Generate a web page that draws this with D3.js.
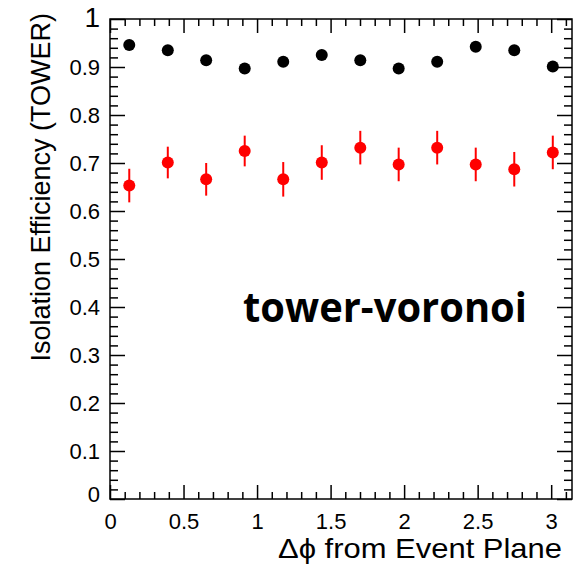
<!DOCTYPE html>
<html>
<head>
<meta charset="utf-8">
<script src="https://cdn.jsdelivr.net/npm/d3@7"></script>
<style>
  body { margin: 0; background: #fff; }
  svg { display: block; font-family: "Liberation Sans", Arial, sans-serif; }
</style>
</head>
<body>
<svg id="chart"></svg>
<script>
// bin centres in delta phi
const dphi = [0.131, 0.393, 0.654, 0.916, 1.178, 1.440, 1.702, 1.963, 2.225, 2.487, 2.749, 3.011];
// black series
const effBlack = [0.946, 0.935, 0.914, 0.897, 0.911, 0.925, 0.914, 0.897, 0.911, 0.942, 0.935, 0.901];
// red series and its errors
const effRed = [0.653, 0.701, 0.666, 0.725, 0.666, 0.701, 0.732, 0.697, 0.732, 0.697, 0.687, 0.722];
const errRed = [0.035, 0.033, 0.034, 0.032, 0.036, 0.036, 0.035, 0.035, 0.035, 0.035, 0.036, 0.035];

const xMajor = [0, 0.5, 1, 1.5, 2, 2.5, 3];
const yMajor = [0, 0.1, 0.2, 0.3, 0.4, 0.5, 0.6, 0.7, 0.8, 0.9, 1];

const W = 576, H = 566;
const margin = {top: 19, right: 4, bottom: 67, left: 110};
const width = W - margin.left - margin.right;
const height = H - margin.top - margin.bottom;

const svg = d3.select('#chart').attr('width', W).attr('height', H);
const g = svg.append('g').attr('transform', `translate(${margin.left},${margin.top})`);

const x = d3.scaleLinear().domain([0, Math.PI]).range([0, width]);
const y = d3.scaleLinear().domain([0, 1]).range([height, 0]);

const xMinor = d3.range(0, 3.15, 0.1).filter(v => Math.abs(v * 2 - Math.round(v * 2)) > 1e-6);
const yMinor = d3.range(0, 1.001, 0.02).filter(v => Math.abs(v * 10 - Math.round(v * 10)) > 1e-6);

function styleAxis(sel) {
  sel.select('.domain').remove();
  sel.selectAll('line').attr('stroke', '#000').attr('stroke-width', 1.5);
}

// bottom
g.append('g').attr('transform', `translate(0,${height})`)
  .call(d3.axisBottom(x).tickValues(xMajor).tickSize(-14).tickPadding(14)
    .tickFormat(d => d3.format('')(d)))
  .call(styleAxis)
  .call(s => s.selectAll('text').attr('font-size', 22).attr('fill', '#000'));
g.append('g').attr('transform', `translate(0,${height})`)
  .call(d3.axisBottom(x).tickValues(xMinor).tickSize(-7).tickFormat(''))
  .call(styleAxis);
// top
g.append('g')
  .call(d3.axisTop(x).tickValues(xMajor).tickSize(-14).tickFormat(''))
  .call(styleAxis);
g.append('g')
  .call(d3.axisTop(x).tickValues(xMinor).tickSize(-7).tickFormat(''))
  .call(styleAxis);
// left
g.append('g')
  .call(d3.axisLeft(y).tickValues(yMajor).tickSize(-15).tickPadding(10)
    .tickFormat(d => d === 0 ? '0' : d === 1 ? '1' : d.toFixed(1)))
  .call(styleAxis)
  .call(s => s.selectAll('text').attr('font-size', d => d === 1 ? 28 : 22).attr('fill', '#000')
    .attr('dy', d => d === 1 ? '0.25em' : d === 0 ? '0.1em' : '0.32em'));
g.append('g')
  .call(d3.axisLeft(y).tickValues(yMinor).tickSize(-8).tickFormat(''))
  .call(styleAxis);
// right
g.append('g').attr('transform', `translate(${width},0)`)
  .call(d3.axisRight(y).tickValues(yMajor).tickSize(-15).tickFormat(''))
  .call(styleAxis);
g.append('g').attr('transform', `translate(${width},0)`)
  .call(d3.axisRight(y).tickValues(yMinor).tickSize(-8).tickFormat(''))
  .call(styleAxis);

// frame
g.append('rect').attr('width', width).attr('height', height)
  .attr('fill', 'none').attr('stroke', '#000').attr('stroke-width', 1.5);

// red error bars
g.selectAll('.err').data(dphi).join('line')
  .attr('x1', d => x(d)).attr('x2', d => x(d))
  .attr('y1', (d, i) => y(effRed[i] - errRed[i]))
  .attr('y2', (d, i) => y(effRed[i] + errRed[i]))
  .attr('stroke', '#ff0000').attr('stroke-width', 2);

g.selectAll('.red').data(dphi).join('circle')
  .attr('cx', d => x(d)).attr('cy', (d, i) => y(effRed[i]))
  .attr('r', 6).attr('fill', '#ff0000');

g.selectAll('.blk').data(dphi).join('circle')
  .attr('cx', d => x(d)).attr('cy', (d, i) => y(effBlack[i]))
  .attr('r', 6).attr('fill', '#000');

// labels
svg.append('text')
  .attr('transform', 'translate(50,13) rotate(-90)')
  .attr('text-anchor', 'end').attr('font-size', 27).attr('fill', '#000')
  .text('Isolation Efficiency (TOWER)');

svg.append('text')
  .attr('x', 562).attr('y', 558)
  .attr('text-anchor', 'end').attr('font-size', 28).attr('fill', '#000')
  .attr('textLength', 284).attr('lengthAdjust', 'spacingAndGlyphs')
  .text('Δϕ from Event Plane');

svg.append('text')
  .attr('x', 243).attr('y', 322)
  .attr('font-family', '"Open Sans", sans-serif').attr('font-weight', 'bold')
  .attr('font-size', 41).attr('fill', '#000')
  .attr('textLength', 284).attr('lengthAdjust', 'spacingAndGlyphs')
  .text('tower-voronoi');
</script>
</body>
</html>
